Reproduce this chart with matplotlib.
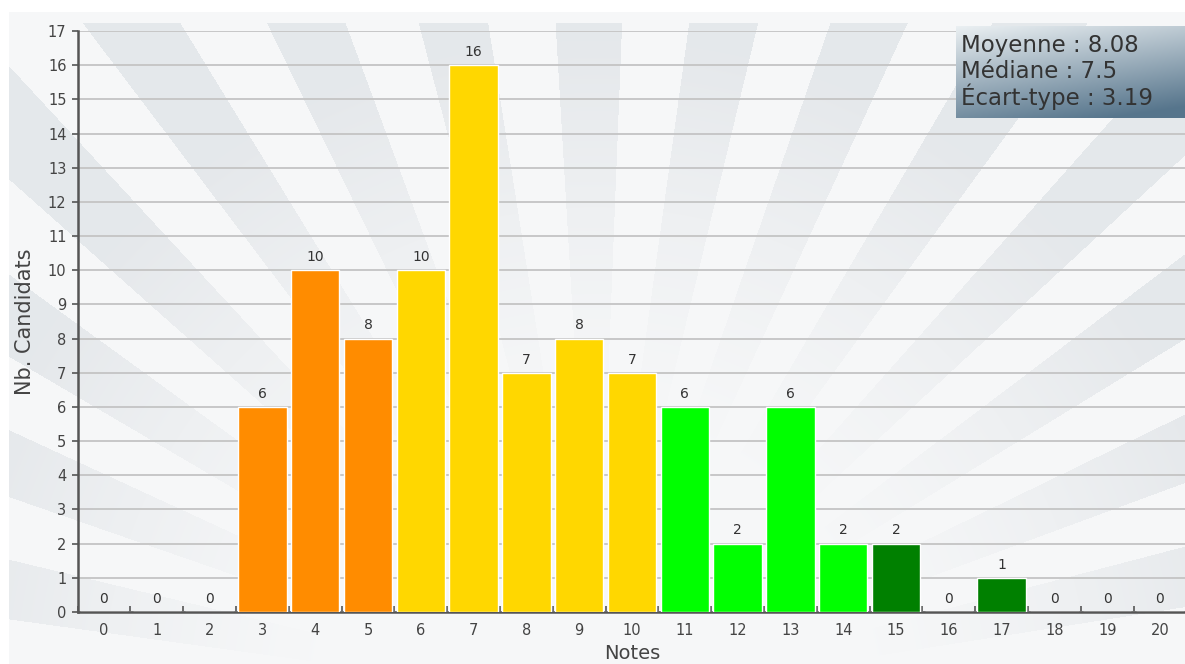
import matplotlib
matplotlib.use("Agg")
import matplotlib.pyplot as plt
import numpy as np

# Distribution des notes
notes = list(range(21))
candidats = [0, 0, 0, 6, 10, 8, 10, 16, 7, 8, 7, 6, 2, 6, 2, 2, 0, 1, 0, 0, 0]
stats_lines = ["Moyenne : 8.08", "Médiane : 7.5", "Écart-type : 3.19"]

# couleur selon la tranche de note
def note_color(n):
    if n < 6:
        return "#ff8c00"
    if n < 11:
        return "#ffd700"
    if n < 15:
        return "#00ff00"
    return "#008000"

colors = [note_color(n) for n in notes]

W, H = 1185, 664
fig = plt.figure(figsize=(W / 100, H / 100), dpi=100)
fig.patch.set_facecolor("white")

# fond rayonnant
bg = fig.add_axes([0, 0, 1, 1], zorder=0)
yy, xx = np.mgrid[0:H, 0:W]
cx, cy = 595.0, 700.0
theta = np.degrees(np.arctan2(xx - cx, cy - yy))
period = 11.25
stripe = (np.floor((theta + period * 0.3) / (period / 2)) % 2 == 0).astype(float)
r = np.hypot(xx - cx, yy - cy)
fade = np.clip((r - 280) / 380, 0, 1) ** 1.3
light = np.array([0.965, 0.969, 0.973])
dark = np.array([0.898, 0.910, 0.922])
a = (stripe * fade)[..., None]
img = light * (1 - a) + dark * a
img[yy < 23] = light
img[(yy < 12) | (xx < 9)] = 1.0
bg.imshow(img, extent=(0, W, H, 0), aspect="auto", interpolation="bilinear")
bg.set_axis_off()

ax = fig.add_axes([77.6 / W, 52 / H, 1108.8 / W, 581 / H], zorder=1)
ax.patch.set_alpha(0)

bars = ax.bar(notes, candidats, width=0.92, color=colors, edgecolor="white",
              linewidth=1, zorder=3)
for x, v in zip(notes, candidats):
    ax.text(x, v + 0.18, str(v), ha="center", va="bottom", fontsize=10,
            color="#333333", zorder=4)

ax.set_xlim(-0.5, 20.5)
ax.set_ylim(0, 17)
ax.set_yticks(range(18))
ax.set_xticks(notes)
ax.set_xticks(np.arange(-0.5, 20.6, 1), minor=True)
ax.yaxis.grid(True, color="#c4c4c4", linewidth=1.3, zorder=1)
ax.set_axisbelow(True)

for side in ("top", "right"):
    ax.spines[side].set_visible(False)
for side in ("left", "bottom"):
    ax.spines[side].set_color("#555555")
    ax.spines[side].set_linewidth(1.8)

ax.tick_params(axis="y", length=4, width=1.2, color="#555555",
               labelsize=10.5, labelcolor="#444444", pad=4)
ax.tick_params(axis="x", which="major", length=0, labelsize=10.5,
               labelcolor="#444444", pad=8)
ax.tick_params(axis="x", which="minor", direction="in", length=4, width=1.2,
               color="#555555")

ax.set_ylabel("Nb. Candidats", fontsize=15, color="#444444", labelpad=9)
ax.set_xlabel("Notes", fontsize=14, color="#444444", labelpad=4)

# encadré des statistiques
box = fig.add_axes([956 / W, (H - 118) / H, 232 / W, 92 / H], zorder=5)
gy, gx = np.mgrid[0:1:92j, 0:1:232j]
t = np.clip(0.8 * gy + 0.3 * gx, 0, 1)[..., None]
top = np.array([0.92, 0.94, 0.95])
bot = np.array([0.34, 0.46, 0.55])
box.imshow(top * (1 - t) + bot * t, extent=(0, 1, 0, 1), aspect="auto")
box.set_axis_off()
for i, line in enumerate(stats_lines):
    box.text(0.02, 0.79 - i * 0.28, line, fontsize=16.5, color="#333333",
             va="center", ha="left", transform=box.transAxes)

fig.savefig("out.png", dpi=100)
